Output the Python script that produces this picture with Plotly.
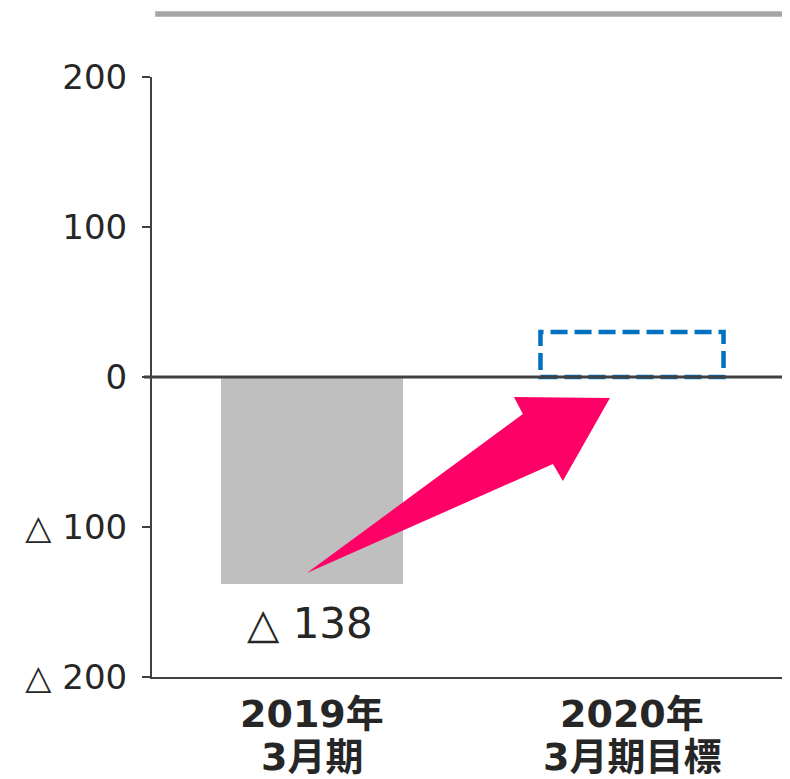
import plotly.graph_objects as go

categories = ["2019年\n3月期", "2020年\n3月期目標"]
actual_values = [-138, None]
target_values = [None, 30]
y_tick_values = [-200, -100, 0, 100, 200]
y_tick_labels = ["△ 200", "△ 100", "0", "100", "200"]

def fmt(v):
    return ("△ " + str(abs(v))) if v < 0 else str(v)

FONT = "DejaVu Sans, Noto Sans CJK JP"
AX = "#404040"
TXT = "#262626"

xpos = list(range(len(categories)))

fig = go.Figure()
fig.add_trace(go.Bar(
    x=xpos, y=[v if v is not None else 0 for v in actual_values],
    width=0.566, marker=dict(color="#bfbfbf", line=dict(width=0)),
    hoverinfo="skip", showlegend=False,
))

# value labels
for i, v in enumerate(actual_values):
    if v is None:
        continue
    fig.add_annotation(x=xpos[i], y=v, xref="x", yref="y", text=fmt(v),
                       showarrow=False, yanchor="middle", yshift=-39, xshift=-2,
                       font=dict(family=FONT, size=42, color=TXT))

# dashed target box
for i, v in enumerate(target_values):
    if v is None:
        continue
    fig.add_shape(type="rect", xref="x", yref="y",
                  x0=xpos[i] - 0.286, x1=xpos[i] + 0.286, y0=0, y1=v,
                  line=dict(color="#0070c0", width=4.5, dash="17px,7px"),
                  fillcolor="rgba(0,0,0,0)")

# arrow (decoration) in data units
pts = [(-0.016, -130.7), (0.659, -24.7), (0.631, -13.3), (0.931, -14.0),
       (0.784, -69.3), (0.753, -58.0)]
path = "M " + " L ".join(f"{x},{y}" for x, y in pts) + " Z"
fig.add_shape(type="path", xref="x", yref="y", path=path,
              fillcolor="#ff0066", line=dict(width=0), layer="above")

# zero line
fig.add_shape(type="line", xref="paper", yref="y", x0=-0.0125, x1=1, y0=0, y1=0,
              line=dict(color=AX, width=3))

# top gray rule
fig.add_shape(type="line", xref="paper", yref="paper", x0=0.005, x1=0.995,
              y0=1.105, y1=1.105, line=dict(color="#a6a6a6", width=5.5))

# category labels (two lines, tight spacing)
for i, c in enumerate(categories):
    lines = c.split("\n")
    for j, ln in enumerate(lines):
        fig.add_annotation(x=xpos[i], y=-0.0617 - 0.0717 * j, xref="x", yref="paper",
                           text=f"<b>{ln}</b>", showarrow=False, yanchor="middle",
                           font=dict(family=FONT, size=38, color=TXT))

fig.update_layout(
    width=782, height=771,
    margin=dict(l=144, r=0, t=69, b=102),
    paper_bgcolor="white", plot_bgcolor="white",
    showlegend=False, bargap=0,
    xaxis=dict(range=[-0.5, 1.49375], tickmode="array", tickvals=xpos,
               ticktext=["" for _ in categories],
               showline=True, linecolor=AX, linewidth=2, ticks="",
               showgrid=False, zeroline=False, fixedrange=True),
    yaxis=dict(range=[-200, 200], tickmode="array", tickvals=y_tick_values,
               ticktext=y_tick_labels,
               tickfont=dict(family=FONT, size=34, color=TXT),
               showline=True, linecolor=AX, linewidth=2, ticks="outside",
               ticklen=8, tickwidth=2, tickcolor=AX, ticklabelstandoff=8,
               showgrid=False, zeroline=False, fixedrange=True),
)

fig.write_html("out.html")
